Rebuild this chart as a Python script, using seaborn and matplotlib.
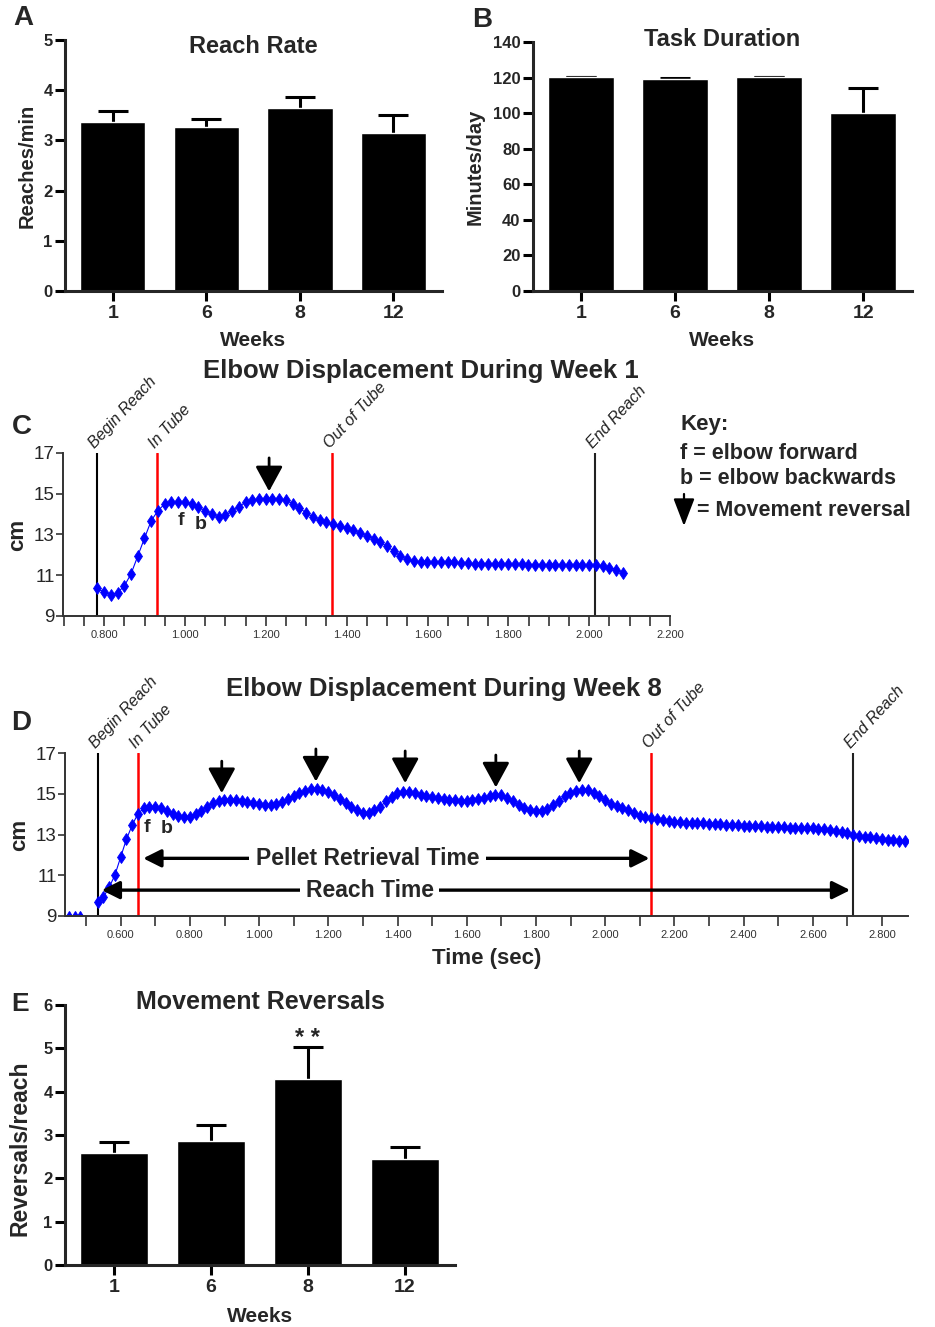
import matplotlib
matplotlib.use("Agg")
import matplotlib.pyplot as plt
from matplotlib.transforms import ScaledTranslation
import numpy as np
import pandas as pd
import seaborn as sns

sns.set_style("ticks")
plt.rcParams['font.family'] = ['Liberation Sans', 'DejaVu Sans']

# ---- bar data (mean, SEM) ----
weeks = ["1", "6", "8", "12"]
reach_rate = [3.36, 3.26, 3.64, 3.15]
reach_rate_sem = [0.23, 0.17, 0.23, 0.35]
task_min = [120.3, 119.4, 120.2, 99.8]
task_min_sem = [0.1, 0.5, 0.15, 14.4]
reversals = [2.58, 2.86, 4.30, 2.44]
reversals_sem = [0.26, 0.38, 0.72, 0.28]

# ---- elbow position traces, sampled at 60 Hz ----
fs = 60
wk1_t0 = 0.783
wk1_cm = [10.35, 10.17, 10.05, 10.15, 10.47, 11.07, 11.94, 12.82, 13.68, 14.17,
          14.50, 14.58, 14.58, 14.58, 14.50, 14.34, 14.17, 13.99, 13.87, 13.95,
          14.15, 14.37, 14.58, 14.68, 14.74, 14.76, 14.76, 14.74, 14.68, 14.52,
          14.30, 14.06, 13.87, 13.70, 13.60, 13.50, 13.40, 13.30, 13.20, 13.07,
          12.94, 12.80, 12.62, 12.42, 12.18, 11.95, 11.78, 11.68, 11.64, 11.63,
          11.64, 11.66, 11.65, 11.63, 11.60, 11.58, 11.57, 11.57, 11.56, 11.55,
          11.54, 11.54, 11.53, 11.53, 11.52, 11.52, 11.52, 11.51, 11.51, 11.51,
          11.50, 11.50, 11.50, 11.49, 11.48, 11.45, 11.38, 11.28, 11.12]
wk1_events = [0.781, 0.930, 1.363, 2.015]
wk1_reversals = [1.208]

wk8_pre_t0 = 0.450
wk8_pre_cm = [9.0, 9.0, 9.0]
wk8_t0 = 0.533
wk8_cm = [9.69, 9.92, 10.40, 11.00, 11.88, 12.76, 13.45, 14.02, 14.28, 14.37,
          14.37, 14.30, 14.17, 14.03, 13.92, 13.86, 13.88, 13.99, 14.16, 14.37,
          14.54, 14.65, 14.70, 14.70, 14.67, 14.63, 14.58, 14.54, 14.49, 14.46,
          14.45, 14.48, 14.58, 14.73, 14.88, 15.03, 15.15, 15.22, 15.22, 15.18,
          15.10, 14.93, 14.72, 14.55, 14.35, 14.18, 14.06, 14.06, 14.20, 14.36,
          14.62, 14.86, 15.02, 15.10, 15.08, 15.02, 14.96, 14.89, 14.83, 14.78,
          14.75, 14.71, 14.68, 14.66, 14.66, 14.71, 14.75, 14.81, 14.88, 14.94,
          14.92, 14.80, 14.62, 14.45, 14.32, 14.21, 14.13, 14.15, 14.26, 14.43,
          14.65, 14.90, 15.04, 15.14, 15.19, 15.17, 15.06, 14.89, 14.68, 14.51,
          14.40, 14.30, 14.19, 14.06, 13.93, 13.86, 13.80, 13.76, 13.72, 13.67,
          13.63, 13.61, 13.58, 13.57, 13.56, 13.54, 13.53, 13.52, 13.50, 13.47,
          13.46, 13.45, 13.43, 13.42, 13.41, 13.40, 13.39, 13.37, 13.36, 13.35,
          13.34, 13.33, 13.32, 13.31, 13.30, 13.28, 13.25, 13.21, 13.17, 13.11,
          13.05, 13.00, 12.95, 12.90, 12.86, 12.82, 12.78, 12.75, 12.72, 12.69,
          12.67]
wk8_events = [0.535, 0.651, 2.133, 2.716]
wk8_reversals = [0.892, 1.164, 1.422, 1.684, 1.925]
# (top, tip) of each reversal arrow in cm
wk1_rev_y = [(16.76, 15.12)]
wk8_rev_y = [(16.6, 15.03), (17.2, 15.6), (17.1, 15.52), (16.9, 15.31), (17.1, 15.52)]

event_names = ["Begin Reach", "In Tube", "Out of Tube", "End Reach"]
event_colors = ["black", "red", "red", "#222222"]

W, H = 935, 1327
fig = plt.figure(figsize=(W / 100, H / 100), dpi=100)


def add_ax(left, top, right, bottom):
    return fig.add_axes([left / W, 1 - bottom / H, (right - left) / W, (bottom - top) / H])


def bar_panel(ax, vals, sem, title, ylabel, ymax, ystep, title_y, ylab_x, ylab_y,
              title_fs=17, ylab_fs=14.5):
    df = pd.DataFrame({"week": weeks, "val": vals})
    sns.barplot(data=df, x="week", y="val", color="black", saturation=1,
                width=0.7, errorbar=None, ax=ax, zorder=2)
    # symmetric bars drawn behind the columns, so only the upper half shows
    ax.errorbar(np.arange(len(vals)), vals, yerr=sem, fmt="none", ecolor="black",
                elinewidth=2.2, capsize=11, capthick=2.2, zorder=1)
    ax.set_ylim(0, ymax)
    ax.set_yticks(np.arange(0, ymax + 0.1, ystep))
    ax.set_xlim(-0.51, 3.52)
    sns.despine(ax=ax)
    for s in ["left", "bottom"]:
        ax.spines[s].set_linewidth(2.2)
        ax.spines[s].set_zorder(3)
    ax.tick_params(axis="both", width=2.2, length=7, color="black")
    ax.tick_params(axis="x", labelsize=14, pad=3)
    ax.tick_params(axis="y", labelsize=12, pad=2)
    plt.setp(ax.get_xticklabels(), fontweight="bold")
    plt.setp(ax.get_yticklabels(), fontweight="bold")
    ax.set_xlabel("Weeks", fontsize=15, fontweight="bold")
    ax.xaxis.set_label_coords(0.5, -0.16)
    ax.set_ylabel(ylabel, fontsize=ylab_fs, fontweight="bold")
    ax.yaxis.set_label_coords(ylab_x, ylab_y)
    ax.text(0.5, title_y, title, transform=ax.transAxes, ha="center", va="center",
            fontsize=title_fs, fontweight="bold")


ax_a = add_ax(65, 40, 442, 291)
bar_panel(ax_a, reach_rate, reach_rate_sem, "Reach Rate", "Reaches/min", 5, 1,
          0.976, -0.074, 0.5)
ax_b = add_ax(533, 42, 912, 291)
bar_panel(ax_b, task_min, task_min_sem, "Task Duration", "Minutes/day", 140, 20,
          1.01, -0.127, 0.5)
ax_e = add_ax(65, 1005, 455, 1265)
bar_panel(ax_e, reversals, reversals_sem, "Movement Reversals", "Reversals/reach", 6, 1,
          1.01, -0.085, 0.45, title_fs=18, ylab_fs=16.5)
ax_e.text(2, 5.22, "* *", ha="center", va="center", fontsize=17, fontweight="bold")


def trace_panel(ax, t0, cm, events, revs, rev_y, xlim, major, minor):
    t = t0 + np.arange(len(cm)) / fs
    sns.lineplot(x=t, y=cm, ax=ax, color="blue", lw=0.8, marker="d", markersize=6.5,
                 markeredgecolor="blue", markeredgewidth=0.6, estimator=None, sort=False)
    ax.set_xlim(*xlim)
    ax.set_ylim(9, 17)
    ax.set_yticks([9, 11, 13, 15, 17])
    ax.set_xticks(major)
    ax.set_xticklabels([f"{v:.3f}" for v in major])
    ax.set_xticks(minor, minor=True)
    shift = ScaledTranslation(-4 / 100, 0, fig.dpi_scale_trans)
    for lab in ax.get_xticklabels():
        lab.set_transform(lab.get_transform() + shift)
    sns.despine(ax=ax)
    for s in ["left", "bottom"]:
        ax.spines[s].set_linewidth(1.4)
        ax.spines[s].set_color("#333333")
    ax.tick_params(axis="x", which="both", length=7, width=1.2, color="#333333",
                   labelsize=8, labelcolor="#333333", pad=3)
    ax.tick_params(axis="y", length=5, width=1.2, color="#333333", labelsize=13.5, pad=1)
    ax.set_ylabel("cm", fontsize=16, fontweight="bold", labelpad=4)
    for ev, name, col in zip(events, event_names, event_colors):
        ax.axvline(ev, color=col, lw=1.8 if col == "red" else 1.5, zorder=1)
        ax.text(ev, 17.1, name, rotation=47, rotation_mode="anchor", ha="left",
                va="bottom", style="italic", fontsize=11.5, color="#222222", clip_on=False)
    for r, (top, tip) in zip(revs, rev_y):
        ax.annotate("", xy=(r, tip), xytext=(r, top), annotation_clip=False,
                    arrowprops=dict(arrowstyle="-|>,head_length=1.1,head_width=0.6",
                                    mutation_scale=14, lw=2, color="black",
                                    shrinkA=0, shrinkB=0))


ax_c = add_ax(63, 453, 670, 616)
trace_panel(ax_c, wk1_t0, wk1_cm, wk1_events, wk1_reversals, wk1_rev_y, (0.698, 2.2),
            np.arange(0.8, 2.21, 0.2), np.arange(0.70, 2.21, 0.05))
ax_c.text(0.989, 13.49, "f", fontsize=14, fontweight="bold", ha="center", va="baseline")
ax_c.text(1.039, 13.29, "b", fontsize=14, fontweight="bold", ha="center", va="baseline")

ax_d = add_ax(65, 753, 908, 916)
t_pre = wk8_pre_t0 + np.arange(len(wk8_pre_cm)) / fs
sns.lineplot(x=t_pre, y=wk8_pre_cm, ax=ax_d, color="blue", lw=0.8, marker="d",
             markersize=5, markeredgecolor="blue", estimator=None, sort=False)
trace_panel(ax_d, wk8_t0, wk8_cm, wk8_events, wk8_reversals, wk8_rev_y, (0.439, 2.875),
            np.arange(0.6, 2.81, 0.2), np.arange(0.5, 2.81, 0.1))
ax_d.text(0.675, 13.14, "f", fontsize=14, fontweight="bold", ha="center", va="baseline")
ax_d.text(0.734, 13.09, "b", fontsize=14, fontweight="bold", ha="center", va="baseline")
ax_d.set_xlabel("Time (sec)", fontsize=16, fontweight="bold", labelpad=6)

# timing spans in week 8
arrow_kw = dict(arrowstyle="<|-|>,head_length=0.9,head_width=0.45", mutation_scale=12,
                lw=2.4, color="black", shrinkA=0, shrinkB=0)
ax_d.annotate("", xy=(wk8_events[1] + 0.014, 11.83), xytext=(wk8_events[2] - 0.005, 11.83),
              arrowprops=arrow_kw, zorder=4)
ax_d.text(1.313, 11.83, "Pellet Retrieval Time", fontsize=16.5, fontweight="bold",
          ha="center", va="center", zorder=5,
          bbox=dict(fc="white", ec="none", pad=5))
ax_d.annotate("", xy=(wk8_events[0] + 0.01, 10.27), xytext=(wk8_events[3] - 0.008, 10.27),
              arrowprops=arrow_kw, zorder=4)
ax_d.text(1.320, 10.27, "Reach Time", fontsize=16.5, fontweight="bold",
          ha="center", va="center", zorder=5,
          bbox=dict(fc="white", ec="none", pad=4))

# titles of trace panels
fig.text(421 / W, 1 - 371 / H, "Elbow Displacement During Week 1", fontsize=18.5,
         fontweight="bold", ha="center", va="center")
fig.text(444 / W, 1 - 689 / H, "Elbow Displacement During Week 8", fontsize=18.5,
         fontweight="bold", ha="center", va="center")

# key
fig.text(680 / W, 1 - 430 / H, "Key:", fontsize=16, fontweight="bold", va="baseline")
fig.text(680 / W, 1 - 459 / H, "f = elbow forward", fontsize=15.5, fontweight="bold",
         va="baseline")
fig.text(680 / W, 1 - 484 / H, "b = elbow backwards", fontsize=15.5, fontweight="bold",
         va="baseline")
fig.text(697 / W, 1 - 516 / H, "= Movement reversal", fontsize=15.5, fontweight="bold",
         va="baseline")
fig.add_artist(matplotlib.patches.FancyArrowPatch(
    (684 / W, 1 - 494 / H), (684 / W, 1 - 526 / H), transform=fig.transFigure,
    arrowstyle="-|>,head_length=1.3,head_width=0.5", mutation_scale=13, lw=1.6,
    color="black", shrinkA=0, shrinkB=0))

# panel letters
for letter, x, y, size in [("A", 23, 18, 20), ("B", 482, 20, 20), ("C", 22, 427, 20),
                           ("D", 21, 723, 20), ("E", 20, 1004, 19)]:
    fig.text(x / W, 1 - y / H, letter, fontsize=size, fontweight="bold",
             ha="center", va="center")

fig.savefig("out.png", dpi=100)
